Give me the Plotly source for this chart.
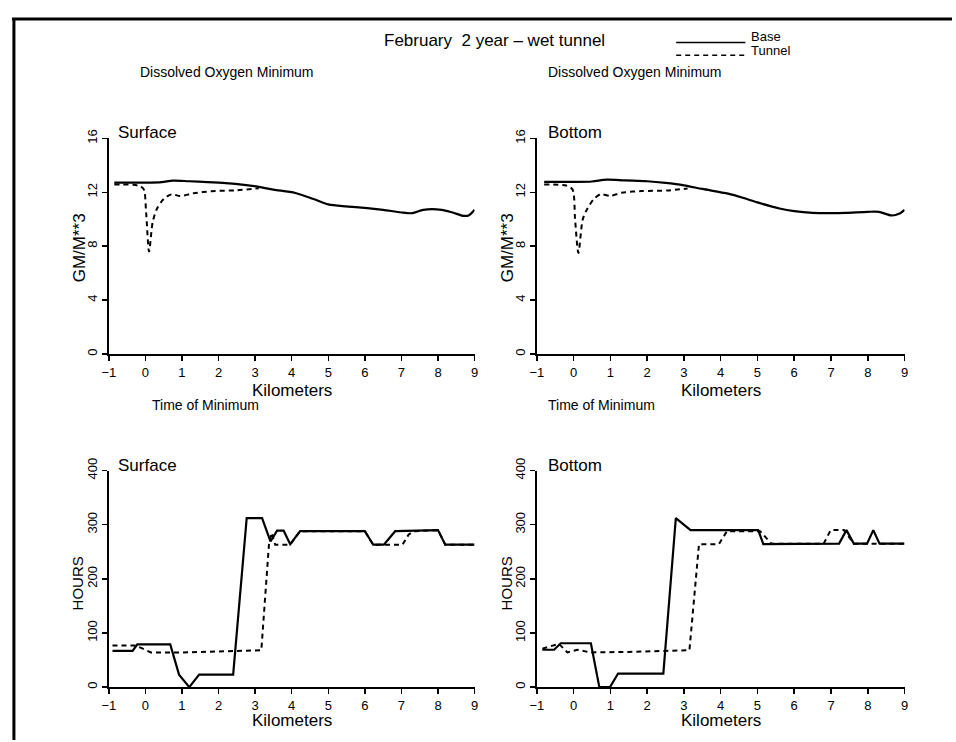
import plotly.graph_objects as go

# ---------------- data ----------------
km_ticks = [-1, 0, 1, 2, 3, 4, 5, 6, 7, 8, 9]
km_tick_text = ["\u22121", "0", "1", "2", "3", "4", "5", "6", "7", "8", "9"]
do_ticks = [0, 4, 8, 12, 16]
hr_ticks = [0, 100, 200, 300, 400]

# Dissolved oxygen minimum, surface
do_surf_base_km = [-0.85, -0.4, 0.0, 0.45, 0.75, 1.2, 1.7, 2.2, 2.7, 3.1, 3.5, 4.1, 4.6, 5.0,
                   5.5, 6.0, 6.5, 7.0, 7.3, 7.6, 8.1, 8.4, 8.7, 8.85, 9.0]
do_surf_base = [12.72, 12.72, 12.72, 12.76, 12.87, 12.82, 12.76, 12.68, 12.55, 12.4, 12.2, 11.95,
                11.5, 11.1, 10.95, 10.85, 10.7, 10.5, 10.45, 10.7, 10.7, 10.5, 10.25, 10.3, 10.7]
do_surf_tun_km = [-0.85, -0.2, -0.05, 0.02, 0.1, 0.2, 0.32, 0.5, 0.72, 0.95, 1.3, 1.8, 2.5, 3.1]
do_surf_tun = [12.58, 12.5, 12.25, 10.5, 7.6, 9.8, 10.8, 11.5, 11.85, 11.72, 11.92, 12.08, 12.15, 12.3]

# Dissolved oxygen minimum, bottom
do_bot_base_km = [-0.8, 0.0, 0.5, 0.9, 1.4, 2.0, 2.5, 3.0, 3.5, 4.2, 4.6, 5.0, 5.6, 6.0, 6.5,
                  7.0, 7.4, 8.0, 8.3, 8.65, 8.85, 9.0]
do_bot_base = [12.77, 12.77, 12.8, 12.94, 12.88, 12.82, 12.7, 12.52, 12.25, 11.9, 11.6, 11.25,
               10.8, 10.6, 10.47, 10.45, 10.47, 10.55, 10.55, 10.28, 10.4, 10.7]
do_bot_tun_km = [-0.8, -0.2, -0.03, 0.04, 0.13, 0.25, 0.37, 0.55, 0.73, 1.0, 1.31, 1.85, 2.56, 3.1]
do_bot_tun = [12.58, 12.5, 12.2, 10.0, 7.5, 10.0, 10.76, 11.5, 11.85, 11.73, 11.97, 12.09, 12.14, 12.28]

# Time of minimum, surface
hr_surf_base_km = [-0.9, -0.35, -0.22, 0.68, 0.92, 1.2, 1.47, 2.4, 2.77, 3.19, 3.42, 3.6, 3.78,
                   3.96, 4.23, 6.0, 6.23, 6.52, 6.83, 8.0, 8.2, 9.0]
hr_surf_base = [67, 67, 79, 79, 23, 0, 23, 23, 312, 312, 269, 289, 289, 264, 288, 288, 263, 263,
                288, 290, 263, 263]
hr_surf_tun_km = [-0.9, -0.3, -0.1, 0.15, 1.0, 2.0, 3.17, 3.38, 3.45, 3.55, 3.96, 4.23, 6.0, 6.23,
                  7.03, 7.2, 7.35, 8.0, 8.2, 9.0]
hr_surf_tun = [77, 77, 72, 64, 64, 66, 68, 265, 285, 263, 263, 288, 288, 263, 263, 282, 288, 290,
               263, 263]

# Time of minimum, bottom
hr_bot_base_km = [-0.85, -0.53, -0.35, 0.47, 0.70, 0.99, 1.21, 2.44, 2.78, 3.18, 5.02, 5.16, 7.22,
                  7.42, 7.62, 7.98, 8.15, 8.32, 9.0]
hr_bot_base = [69, 69, 81, 81, 0, 0, 25, 25, 312, 290, 290, 264, 265, 290, 265, 265, 290, 265, 265]
hr_bot_tun_km = [-0.85, -0.4, -0.17, 0.1, 0.45, 1.5, 3.15, 3.41, 3.95, 4.17, 5.07, 5.38, 6.8, 6.99,
                 7.35, 7.62, 9.0]
hr_bot_tun = [71, 80, 64, 69, 64, 65, 68, 264, 264, 288, 288, 265, 265, 290, 290, 265, 265]

# ---------------- figure ----------------
W, H = 956, 742
FONT = "Liberation Sans, Arial, sans-serif"


def fx(p):
    return p / W


def fy(p):
    return 1 - p / H


fig = go.Figure()

series = [
    ("x", "y", do_surf_tun_km, do_surf_tun, "dash", "spline"),
    ("x", "y", do_surf_base_km, do_surf_base, "solid", "spline"),
    ("x2", "y2", do_bot_tun_km, do_bot_tun, "dash", "spline"),
    ("x2", "y2", do_bot_base_km, do_bot_base, "solid", "spline"),
    ("x3", "y3", hr_surf_tun_km, hr_surf_tun, "dash", "linear"),
    ("x3", "y3", hr_surf_base_km, hr_surf_base, "solid", "linear"),
    ("x4", "y4", hr_bot_tun_km, hr_bot_tun, "dash", "linear"),
    ("x4", "y4", hr_bot_base_km, hr_bot_base, "solid", "linear"),
]
for xa, ya, xs, ys, dash, shape in series:
    line = dict(color="black", width=2.2 if dash == "solid" else 2,
                dash="solid" if dash == "solid" else "5px,4px", shape=shape)
    if shape == "spline":
        line["smoothing"] = 0.8
    fig.add_trace(go.Scatter(x=xs, y=ys, xaxis=xa, yaxis=ya, mode="lines", line=line,
                             showlegend=False, hoverinfo="skip"))

left_dom = [fx(103), fx(473)]
right_dom = [fx(536), fx(908)]
top_dom = [fy(348), fy(128)]
bot_dom = [fy(688), fy(467)]

common = dict(showline=True, linecolor="black", linewidth=2, ticks="outside", ticklen=5,
              tickwidth=1.5, tickcolor="black", showgrid=False, zeroline=False,
              tickfont=dict(family=FONT, size=13, color="black"), fixedrange=True)
xcommon = dict(common, range=[-1, 9], tickvals=km_ticks, ticktext=km_tick_text, tickangle=0)
ycommon = dict(common, tickangle=-90)

fig.update_layout(
    width=W, height=H, margin=dict(l=0, r=0, t=0, b=0),
    paper_bgcolor="white", plot_bgcolor="white",
    xaxis=dict(xcommon, domain=left_dom, anchor="y"),
    yaxis=dict(ycommon, domain=top_dom, anchor="x", range=[0, 16], tickvals=do_ticks),
    xaxis2=dict(xcommon, domain=right_dom, anchor="y2"),
    yaxis2=dict(ycommon, domain=top_dom, anchor="x2", range=[0, 16], tickvals=do_ticks),
    xaxis3=dict(xcommon, domain=left_dom, anchor="y3"),
    yaxis3=dict(ycommon, domain=bot_dom, anchor="x3", range=[0, 400], tickvals=hr_ticks),
    xaxis4=dict(xcommon, domain=right_dom, anchor="y4"),
    yaxis4=dict(ycommon, domain=bot_dom, anchor="x4", range=[0, 400], tickvals=hr_ticks),
)

anns = []


def text(s, x, y, size=14, xanchor="left", angle=0):
    anns.append(dict(text=s, x=fx(x), y=fy(y), xref="paper", yref="paper", showarrow=False,
                     xanchor=xanchor, yanchor="middle", textangle=angle,
                     font=dict(family=FONT, size=size, color="black")))


text("February  2 year \u2013 wet tunnel", 493, 28, size=17, xanchor="center")
text("Base", 751, 24, size=13)
text("Tunnel", 751, 38, size=13)
text("Dissolved Oxygen Minimum", 313, 60, xanchor="right")
text("Dissolved Oxygen Minimum", 545, 60)
text("Time of Minimum", 145, 400)
text("Time of Minimum", 545, 400)
text("Surface", 110, 122, size=17)
text("Bottom", 545, 122, size=17)
text("Surface", 110, 462, size=17)
text("Bottom", 545, 462, size=17)
text("Kilometers", 288, 385, size=17, xanchor="center")
text("Kilometers", 722, 385, size=17, xanchor="center")
text("Kilometers", 288, 722, size=17, xanchor="center")
text("Kilometers", 722, 722, size=17, xanchor="center")
text("GM/M**3", 73, 240, size=17, xanchor="center", angle=-90)
text("GM/M**3", 506, 240, size=17, xanchor="center", angle=-90)
text("HOURS", 71, 582, size=15, xanchor="center", angle=-90)
text("HOURS", 505, 582, size=15, xanchor="center", angle=-90)
fig.update_layout(annotations=anns)

shapes = [
    # frame (top and left edges)
    dict(type="line", xref="paper", yref="paper", x0=fx(5), x1=1, y0=fy(6), y1=fy(6),
         line=dict(color="black", width=3)),
    dict(type="line", xref="paper", yref="paper", x0=fx(7), x1=fx(7), y0=fy(5), y1=0,
         line=dict(color="black", width=3)),
    # legend keys
    dict(type="line", xref="paper", yref="paper", x0=fx(677), x1=fx(747), y0=fy(30), y1=fy(30),
         line=dict(color="black", width=1.5)),
    dict(type="line", xref="paper", yref="paper", x0=fx(677), x1=fx(747), y0=fy(43), y1=fy(43),
         line=dict(color="black", width=1.5, dash="5px,4px")),
]
fig.update_layout(shapes=shapes)

fig.write_html("out.html", config={"displayModeBar": False, "staticPlot": True},
               post_script="document.body.style.margin='0px';document.body.style.overflow='hidden';")
